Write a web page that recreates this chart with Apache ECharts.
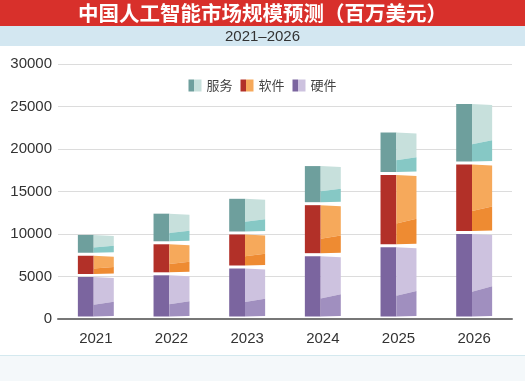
<!DOCTYPE html>
<html><head><meta charset="utf-8">
<script src="https://cdn.jsdelivr.net/npm/echarts@6/dist/echarts.min.js"></script>
<style>html,body{margin:0;padding:0;background:#fff}#c{width:525px;height:381px}</style>
</head><body><div id="c"></div>
<script>
var years = ['2021','2022','2023','2024','2025','2026'];
var hardware = [5000, 5200, 6000, 7450, 8500, 10050];
var software = [2500, 3650, 4000, 6000, 8500, 8200];
var services = [2450, 3600, 4200, 4600, 5000, 7100];
var yTicks = [0, 5000, 10000, 15000, 20000, 25000, 30000];
var titleText = '中国人工智能市场规模预测（百万美元）';
var subtitleText = '2021–2026';

var palettes = {
  '硬件': {left:'#7b659f', light:'#cdc2df', dark:'#a08fbf'},
  '软件': {left:'#b23028', light:'#f6a95b', dark:'#ee8b32'},
  '服务': {left:'#6e9f9d', light:'#c7e0dc', dark:'#86c8c5'}
};

function segData(vals, bases){
  return vals.map(function(v,i){ return [i, bases[i], bases[i]+v]; });
}
var base0 = years.map(function(){return 0;});
var base1 = hardware.slice();
var base2 = hardware.map(function(v,i){return v+software[i];});

function makeRender(p){
  return function(params, api){
    var i = api.value(0), b = api.value(1), t = api.value(2);
    var pb = api.coord([i, b]), pt = api.coord([i, t]);
    var w = api.size([1,0])[0]*0.475;
    var xL = pb[0]-w/2, xM = xL + w*0.44, xR = xL + w;
    var yB = pb[1]-2.5, yT = pt[1]+0.5;
    var h = yB - yT;
    var slant = 0.06*h + 0.5;
    var yMid = yB - 0.3*h;
    return {type:'group', children:[
      {type:'rect', shape:{x:xL, y:yT, width:xM-xL, height:h}, style:{fill:p.left}},
      {type:'polygon', shape:{points:[[xM,yT],[xR,yT+1],[xR,yMid-slant],[xM,yMid]]}, style:{fill:p.light}},
      {type:'polygon', shape:{points:[[xM,yMid],[xR,yMid-slant],[xR,yB-0.5],[xM,yB]]}, style:{fill:p.dark}}
    ]};
  };
}
function grad(p){
  return {type:'linear', x:0, y:0, x2:1, y2:0, colorStops:[
    {offset:0, color:p.left},{offset:0.45, color:p.left},{offset:0.45, color:p.light},{offset:1, color:p.light}]};
}

var chart = echarts.init(document.getElementById('c'), null, {renderer:'canvas'});
var FONT = '"Liberation Sans", "Noto Sans CJK SC", sans-serif';
chart.setOption({
  animation:false,
  graphic:[
    {type:'rect', left:0, top:0, shape:{width:525, height:26}, style:{fill:'#d8302b'}, z:0},
    {type:'rect', left:0, top:26, shape:{width:525, height:20}, style:{fill:'#d3e7f1'}, z:0},
    {type:'rect', left:0, top:355, shape:{width:525, height:26}, style:{fill:'#f4f8fa'}, z:0},
    {type:'rect', left:0, top:355, shape:{width:525, height:1}, style:{fill:'#d4e9ef'}, z:0},
    {type:'text', x:262.5, y:13.5, style:{text:titleText, fill:'#fff', font:'bold 20.5px "Noto Sans CJK SC", sans-serif', align:'center', verticalAlign:'middle'}, z:1},
    {type:'text', x:262.5, y:36.5, style:{text:subtitleText, fill:'#333', font:'15px "Liberation Sans", sans-serif', align:'center', verticalAlign:'middle'}, z:1}
  ],
  legend:{
    top:79, left:'center', padding:0, itemWidth:13, itemHeight:12, itemGap:8,
    textStyle:{fontSize:13, color:'#444', fontFamily:'"Noto Sans CJK SC", sans-serif'},
    data:[
      {name:'服务', icon:'rect', itemStyle:{color:grad(palettes['服务'])}},
      {name:'软件', icon:'rect', itemStyle:{color:grad(palettes['软件'])}},
      {name:'硬件', icon:'rect', itemStyle:{color:grad(palettes['硬件'])}}
    ]
  },
  grid:{left:58, right:13, top:64, bottom:62},
  xAxis:{
    type:'category', data:years,
    axisLine:{lineStyle:{color:'#777', width:2}},
    axisTick:{show:false},
    axisLabel:{fontSize:15, color:'#333', margin:12, fontFamily:FONT}
  },
  yAxis:{
    type:'value', min:yTicks[0], max:yTicks[yTicks.length-1], interval:5000,
    axisLine:{show:false}, axisTick:{show:false},
    axisLabel:{fontSize:15, color:'#333', margin:6, fontFamily:FONT, formatter:function(v){return String(v);}},
    splitLine:{lineStyle:{color:'#dcdcdc', width:1}}
  },
  series:[
    {name:'硬件', type:'custom', renderItem:makeRender(palettes['硬件']), data:segData(hardware, base0), itemStyle:{color:palettes['硬件'].left}, encode:{x:0, y:[1,2]}},
    {name:'软件', type:'custom', renderItem:makeRender(palettes['软件']), data:segData(software, base1), itemStyle:{color:palettes['软件'].left}, encode:{x:0, y:[1,2]}},
    {name:'服务', type:'custom', renderItem:makeRender(palettes['服务']), data:segData(services, base2), itemStyle:{color:palettes['服务'].left}, encode:{x:0, y:[1,2]}}
  ]
});
</script></body></html>
